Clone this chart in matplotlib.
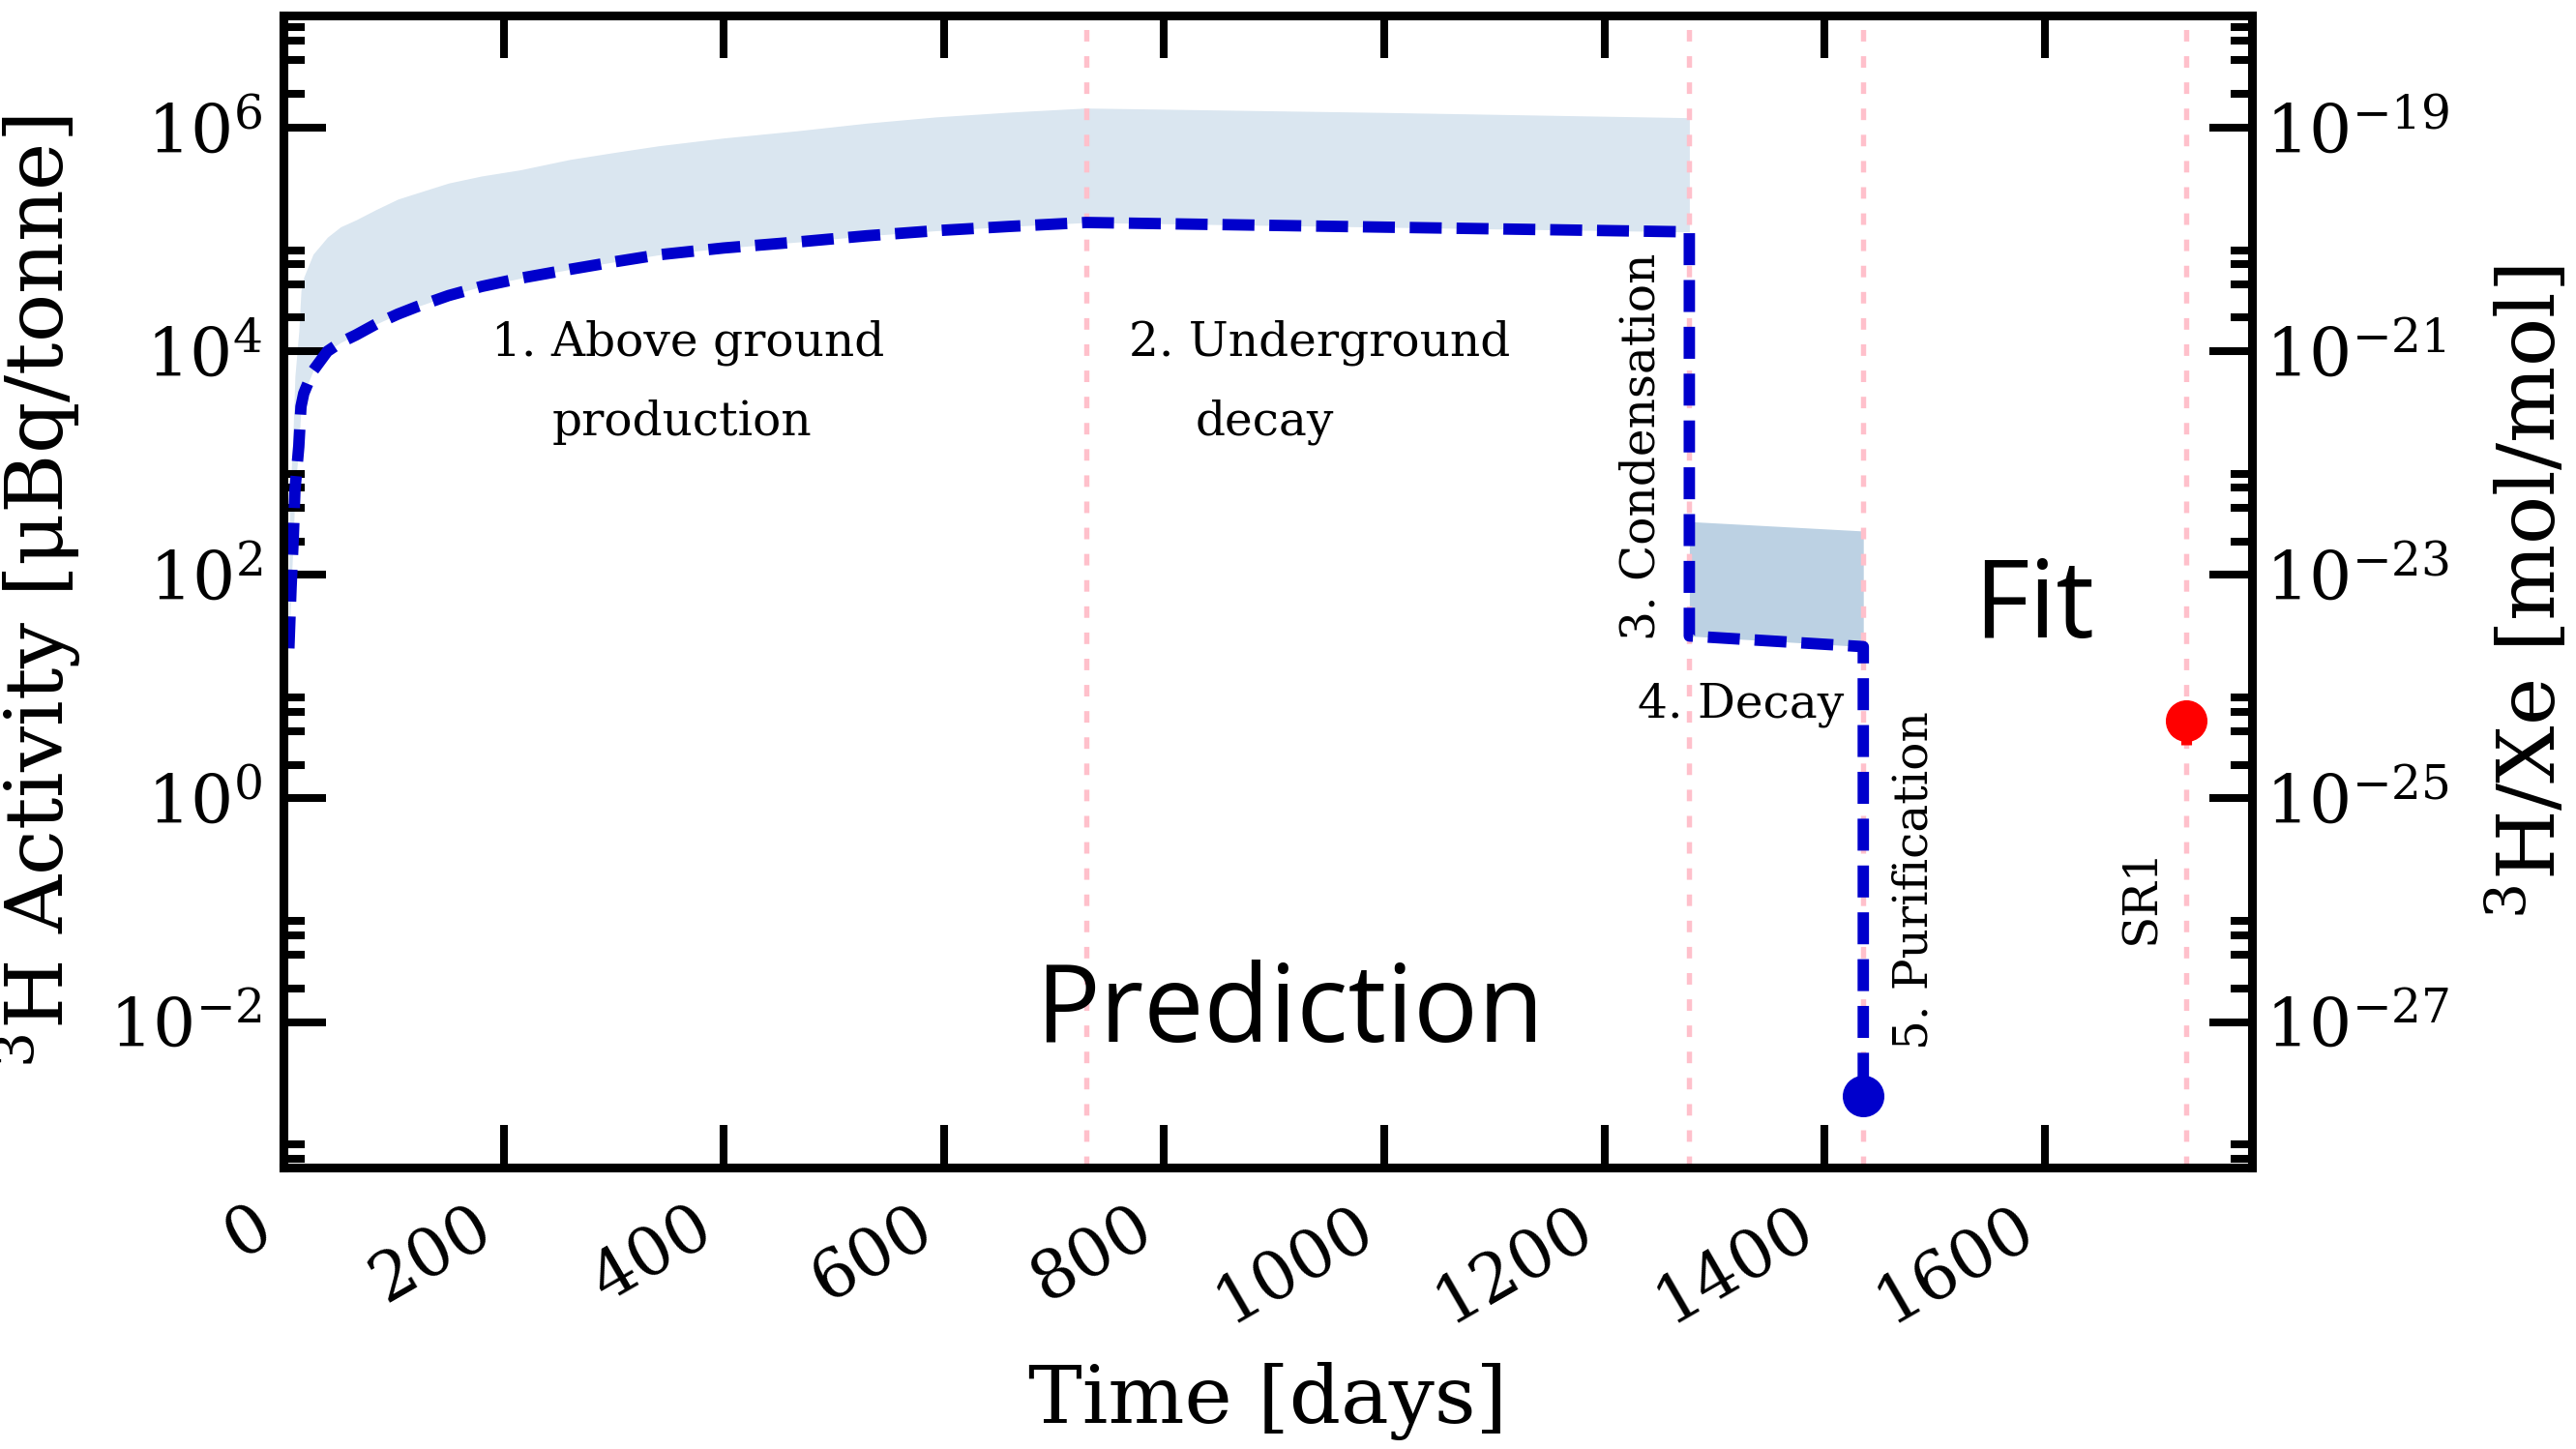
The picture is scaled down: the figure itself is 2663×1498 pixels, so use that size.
import numpy as np
import matplotlib
matplotlib.use("Agg")
import matplotlib.pyplot as plt
from matplotlib.ticker import FixedLocator, NullFormatter

# ---------------- data ----------------
# predicted 3H activity [uBq/tonne] vs time [days]
t_pred = [5, 7, 9, 10.5, 14, 16, 18.5, 27, 40, 52, 66, 84, 104, 121, 150, 180,
          215, 260, 300, 341, 400, 467, 530, 593, 660, 729, 1000, 1277, 1277,
          1435, 1435]
a_pred = [22, 77, 213, 570, 1.4e3, 3.2e3, 4.2e3, 6.7e3, 1.0e4, 1.2e4, 1.4e4,
          1.75e4, 2.15e4, 2.5e4, 3.15e4, 3.8e4, 4.5e4, 5.4e4, 6.3e4, 7.3e4,
          8.4e4, 9.5e4, 1.08e5, 1.2e5, 1.31e5, 1.42e5, 1.29e5, 1.17e5, 28.4,
          22.8, 2.2e-3]

# uncertainty band: production + underground decay
band1_t = [5, 7, 9, 10.5, 14, 16, 18.5, 27, 40, 52, 66, 84, 104, 121, 150, 180,
           215, 260, 300, 341, 400, 467, 530, 593, 660, 729, 1000, 1277]
band1_lo = [22, 77, 213, 570, 1.4e3, 3.2e3, 4.2e3, 6.7e3, 1.0e4, 1.2e4, 1.4e4,
            1.75e4, 2.15e4, 2.5e4, 3.15e4, 3.8e4, 4.5e4, 5.4e4, 6.3e4, 7.3e4,
            8.4e4, 9.5e4, 1.08e5, 1.2e5, 1.31e5, 1.42e5, 1.29e5, 1.17e5]
band1_hi = [230, 800, 2.2e3, 6.0e3, 1.5e4, 3.5e4, 4.6e4, 7.4e4, 1.05e5, 1.3e5,
            1.5e5, 1.85e5, 2.3e5, 2.6e5, 3.2e5, 3.7e5, 4.2e5, 5.2e5, 6.0e5,
            6.9e5, 8.1e5, 9.4e5, 1.1e6, 1.25e6, 1.38e6, 1.5e6, 1.37e6, 1.23e6]

# uncertainty band: after condensation (decay)
band2_t = [1277, 1435]
band2_lo = [28.4, 22.8]
band2_hi = [300, 247]

# stage boundaries [days]
stage_t = [729, 1277, 1435, 1728]

# predicted value after purification
purif_t = [1435]
purif_a = [2.2e-3]

# SR1 fit [mol/mol]
sr1_t = [1728]
sr1_ratio = [5.0e-25]
sr1_err = [2.0e-25]

# conversion activity [uBq/tonne] -> 3H/Xe [mol/mol]
act_to_ratio = 1e-25

xticks = [0, 200, 400, 600, 800, 1000, 1200, 1400, 1600]

# ---------------- style ----------------
plt.rcParams['font.family'] = 'serif'
plt.rcParams['font.serif'] = ['DejaVu Serif']
plt.rcParams['mathtext.fontset'] = 'dejavuserif'

BLUE = '#0000CC'
PINK = '#FFC0CB'

fig = plt.figure(figsize=(26.63, 14.98), dpi=100)
ax = fig.add_axes([0.110, 0.1943, 0.7642, 0.7947])
ax.set_yscale('log')

ax.fill_between(band1_t, band1_lo, band1_hi, color='steelblue', alpha=0.2,
                lw=0, zorder=1)
ax.fill_between(band2_t, band2_lo, band2_hi, color='steelblue', alpha=0.36,
                lw=0, zorder=1)
for t in stage_t:
    ax.axvline(t, color=PINK, lw=3.9, dashes=(2.2, 2.8), zorder=1.5)

ax.plot(t_pred, a_pred, color=BLUE, lw=8.5, dashes=(2.8, 1.3), zorder=3)
ax.plot(purif_t, purif_a, 'o', color=BLUE, ms=30, zorder=4)

ax.set_xlim(0, 1788)
ax.set_ylim(5e-4, 1e7)

# ticks
ax.set_xticks(xticks)
ax.yaxis.set_major_locator(FixedLocator([10.0**e for e in (-4, -2, 0, 2, 4, 6)]))
ax.yaxis.set_minor_locator(FixedLocator([m * 10.0**e for e in (-4, -2, 0, 2, 4, 6)
                                         for m in (2, 4, 6, 8)]))
ax.yaxis.set_minor_formatter(NullFormatter())
ax.tick_params(axis='both', which='major', direction='in', length=32,
               width=5.8, labelsize=50, pad=16)
ax.tick_params(axis='both', which='minor', direction='in', length=16,
               width=5.8)
ax.tick_params(axis='x', top=True, pad=20, labelrotation=30)
for lbl in ax.get_xticklabels():
    lbl.set_ha('right')

for sp in ax.spines.values():
    sp.set_linewidth(6.5)

ax.set_xlabel('Time [days]', fontsize=60)
ax.xaxis.set_label_coords(0.5, -0.169)
ax.set_ylabel(r'$^{3}$H Activity [μBq/tonne]', fontsize=60)
ax.yaxis.set_label_coords(-0.1015, 0.5)

# stage annotations
fs = 35
ax.text(189, 9.1e3, '1. Above ground', fontsize=fs, ha='left', va='baseline')
ax.text(244, 1.78e3, 'production', fontsize=fs, ha='left', va='baseline')
ax.text(768, 9.1e3, '2. Underground', fontsize=fs, ha='left', va='baseline')
ax.text(828, 1.78e3, 'decay', fontsize=fs, ha='left', va='baseline')
ax.text(1234, 26.0, '3. Condensation', fontsize=fs, rotation=90,
        ha='center', va='bottom')
ax.text(1230, 5.35, '4. Decay', fontsize=fs, ha='left', va='baseline',
        zorder=5)
ax.text(1481, 5.7e-3, '5. Purification', fontsize=fs, rotation=90,
        ha='center', va='bottom')
ax.text(1688, 0.0494, 'SR1', fontsize=fs, rotation=90, ha='center',
        va='bottom')

ax.text(914, 6.6e-3, 'Prediction', fontsize=80, family='Open Sans',
        ha='center', va='baseline')
ax.text(1590, 27.5, 'Fit', fontsize=80, family='Open Sans',
        ha='center', va='baseline')

# right axis: 3H/Xe
ax2 = ax.twinx()
ax2.set_yscale('log')
ax2.set_ylim(5e-4 * act_to_ratio, 1e7 * act_to_ratio)
ax2.errorbar(sr1_t, sr1_ratio, yerr=sr1_err, fmt='o', color='red', ms=30,
             elinewidth=8, capsize=0, zorder=4)
ax2.yaxis.set_major_locator(FixedLocator([10.0**e for e in (-29, -27, -25, -23, -21, -19)]))
ax2.yaxis.set_minor_locator(FixedLocator([m * 10.0**e for e in (-29, -27, -25, -23, -21, -19)
                                          for m in (2, 4, 6, 8)]))
ax2.yaxis.set_minor_formatter(NullFormatter())
ax2.tick_params(axis='y', which='major', direction='in', length=32,
                width=5.8, labelsize=50, pad=10)
ax2.tick_params(axis='y', which='minor', direction='in', length=16,
                width=5.8)
for sp in ax2.spines.values():
    sp.set_linewidth(6.5)
ax2.set_ylabel(r'$^{3}$H/Xe [mol/mol]', fontsize=60)
ax2.yaxis.set_label_coords(1.119, 0.5)
ax2.set_xlim(0, 1788)

fig.savefig('out.png', dpi=100)
